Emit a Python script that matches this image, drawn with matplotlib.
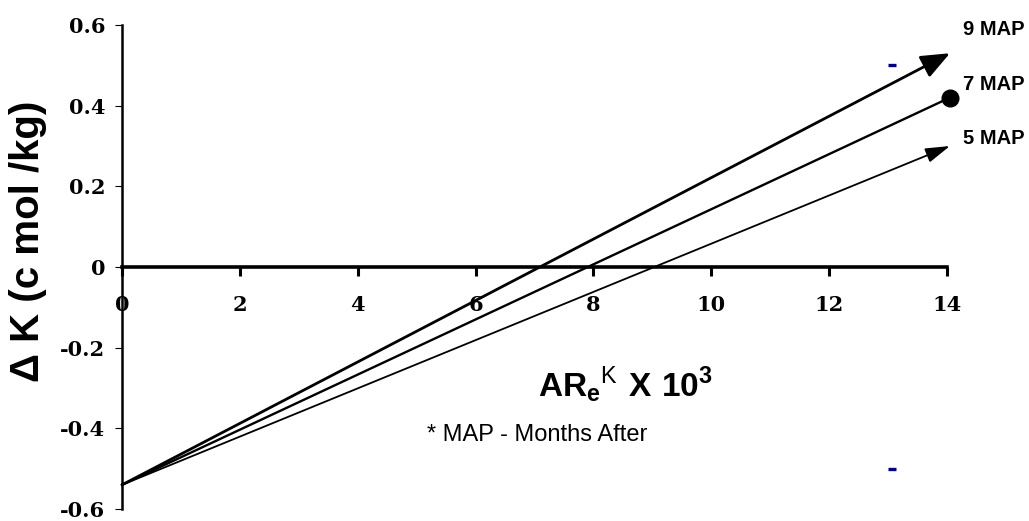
import matplotlib
matplotlib.use('Agg')
from matplotlib import pyplot as plt

# data
series = ['5 MAP', '7 MAP', '9 MAP']
start_x = [0, 0, 0]
start_k = [-0.54, -0.54, -0.54]
end_x = [14.05, 14.05, 14.05]
end_k = [0.30, 0.42, 0.53]
label_k = [0.319, 0.452, 0.588]
x_ticks = [0, 2, 4, 6, 8, 10, 12, 14]
y_ticks = [-0.6, -0.4, -0.2, 0, 0.2, 0.4, 0.6]
y_ticklabels = ['-0.6', '-0.4', '-0.2', '0', '0.2', '0.4', '0.6']
dash_x = [13.07, 13.07]
dash_k = [0.5, -0.5]

plt.rcParams['mathtext.fontset'] = 'custom'
plt.rcParams['mathtext.rm'] = 'Liberation Sans'
plt.rcParams['mathtext.bf'] = 'Liberation Sans:bold'

fig = plt.figure(figsize=(10.29, 5.21), dpi=100)
ax = fig.add_axes([0.1186, 0.0230, 0.8017, 0.9290])

tick_font = {'family': 'DejaVu Serif', 'weight': 'bold', 'size': 15}

ax.set_xlim(0, 14)
ax.set_ylim(-0.6, 0.6)
ax.spines['top'].set_visible(False)
ax.spines['right'].set_visible(False)
ax.spines['bottom'].set_position(('data', 0))
ax.spines['bottom'].set_linewidth(2.6)
ax.spines['left'].set_linewidth(1.8)

ax.set_xticks(x_ticks)
ax.set_xticklabels([str(t) for t in x_ticks], fontdict=tick_font)
ax.set_yticks(y_ticks)
ax.set_yticklabels(y_ticklabels, fontdict=tick_font)
ax.tick_params(axis='x', direction='out', length=6.5, width=2.2, pad=14)
ax.tick_params(axis='y', direction='out', length=5, width=0.8, pad=7)

# 9 MAP - big filled arrow
i = 2
ax.annotate('', xy=(end_x[i], end_k[i]), xytext=(start_x[i], start_k[i]),
            annotation_clip=False,
            arrowprops=dict(arrowstyle='-|>,head_length=1.1,head_width=0.45',
                            mutation_scale=16, lw=2.0, color='black',
                            shrinkA=0, shrinkB=0))
# 7 MAP - line ending in a dot
i = 1
ax.plot([start_x[i], end_x[i]], [start_k[i], end_k[i]], color='black',
        lw=1.7, clip_on=False)
ax.plot([end_x[i]], [end_k[i]], 'o', color='black', ms=12, clip_on=False)
# 5 MAP - thinner arrow
i = 0
ax.annotate('', xy=(end_x[i], end_k[i]), xytext=(start_x[i], start_k[i]),
            annotation_clip=False,
            arrowprops=dict(arrowstyle='-|>,head_length=1.0,head_width=0.3',
                            mutation_scale=15, lw=1.3, color='black',
                            shrinkA=0, shrinkB=0))

for name, k in zip(series, label_k):
    ax.text(14.27, k, name, ha='left', va='center', fontsize=14.5,
            fontweight='bold', family='Liberation Sans', clip_on=False)

ax.plot(dash_x, dash_k, '_', color='#000080', ms=6, mew=2.4, clip_on=False)

fig.text(28 / 1029, 1 - 241 / 521, '\u0394 K (c mol /kg)', rotation=90,
         ha='center', va='center', fontsize=29, fontweight='bold',
         family='Liberation Sans')
fig.text(625 / 1029, 1 - 385 / 521,
         r'$\mathbf{AR_e}^{\mathrm{K}}\ \mathbf{X\ 10^3}$',
         ha='center', va='center', fontsize=24)
fig.text(537 / 1029, 1 - 435 / 521, '* MAP - Months After', ha='center',
         va='center', fontsize=17, family='Liberation Sans')

fig.savefig('out.png', dpi=100)
